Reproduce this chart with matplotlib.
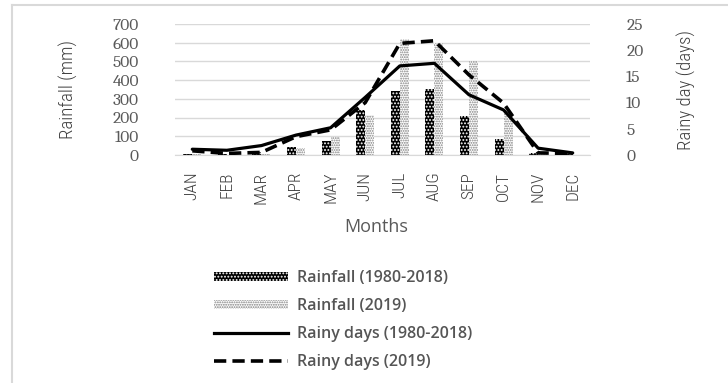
import matplotlib
matplotlib.use("Agg")
import matplotlib.pyplot as plt
import numpy as np
from matplotlib.patches import Patch
from matplotlib.lines import Line2D

# monthly climatology vs 2019
months = ['JAN', 'FEB', 'MAR', 'APR', 'MAY', 'JUN', 'JUL', 'AUG', 'SEP', 'OCT', 'NOV', 'DEC']
rain_avg = [5, 5, 18, 44, 75, 240, 340, 355, 210, 87, 10, 3]
rain_2019 = [4, 2, 5, 40, 95, 215, 620, 600, 500, 225, 5, 1]
days_avg = [1.1, 0.9, 1.8, 3.8, 5.2, 11, 17, 17.5, 11.5, 8.6, 1.3, 0.4]
days_2019 = [0.8, 0.3, 0.5, 3.5, 4.8, 10, 21.3, 21.8, 15.3, 9.9, 0.4, 0.3]

grey = '#595959'
cond = {'family': 'Roboto Condensed', 'weight': 300}
plt.rcParams['hatch.linewidth'] = 0.9

fig = plt.figure(figsize=(7.28, 3.83), dpi=100)
ax = fig.add_axes([175/728, 1-155/383, 415/728, 131/383])
ax2 = ax.twinx()

x = np.arange(len(months))
w = 0.26
avg_style = dict(facecolor='black', edgecolor='white', hatch='.....', linewidth=0)
y19_style = dict(facecolor='white', edgecolor='#7f7f7f', hatch='.......', linewidth=0)
ax.bar(x - w/2, rain_avg, w, zorder=2, **avg_style)
ax.bar(x + w/2, rain_2019, w, zorder=2, **y19_style)

dash = (0, (3.4, 1.7))
ax2.plot(x, days_avg, color='black', lw=2.3, solid_capstyle='round', zorder=3)
ax2.plot(x, days_2019, color='black', lw=2.6, ls=dash, zorder=3)

ax.set_xlim(-0.5, 11.5)
ax.set_ylim(0, 700)
ax2.set_ylim(0, 25)
ax.set_yticks(range(0, 701, 100))
ax2.set_yticks(range(0, 26, 5))
ax.yaxis.grid(True, color='#d9d9d9', lw=1)
ax.set_axisbelow(True)

for a in (ax, ax2):
    for s in a.spines.values():
        s.set_visible(False)
    a.tick_params(length=0)
ax.spines['bottom'].set_visible(True)
ax.spines['bottom'].set_color('#d9d9d9')

ax.set_xticks(x)
ax.set_xticklabels(months, rotation=90, fontsize=12.5, color='#404040',
                   family='Roboto Condensed', weight=300)
ax.tick_params(axis='x', pad=12)
ax.tick_params(axis='y', pad=26, labelsize=12.5, labelcolor=grey, labelfontfamily='Caladea')
ax2.tick_params(axis='y', pad=26, labelsize=12.5, labelcolor=grey, labelfontfamily='Caladea')

ax.set_ylabel('Rainfall (mm)', fontsize=13.5, color='#404040', labelpad=25, **cond)
ax2.set_ylabel('Rainy day (days)', fontsize=13.5, color='#404040', labelpad=24, **cond)
fig.text(376/728, 1-227/383, 'Months', ha='center', va='center',
         fontsize=13, color=grey, family='Open Sans')

handles = [
    Patch(**avg_style),
    Patch(**y19_style),
    Line2D([], [], color='black', lw=2.3),
    Line2D([], [], color='black', lw=2.6, ls=dash),
]
labels = ['Rainfall (1980-2018)', 'Rainfall (2019)',
          'Rainy days (1980-2018)', 'Rainy days (2019)']
leg = fig.legend(handles, labels, loc='upper left', bbox_to_anchor=(208/728, 1-264/383),
                 frameon=False, prop={'family': 'Open Sans', 'size': 11.5, 'weight': 600},
                 handlelength=4.6, handleheight=0.5, handletextpad=0.6,
                 labelspacing=0.74, borderaxespad=0)
for t in leg.get_texts():
    t.set_color('#555555')

# chart border
fig.add_artist(Line2D([12/728, 12/728], [0, 1-5/383], transform=fig.transFigure,
                      color='#d9d9d9', lw=1.5))
fig.add_artist(Line2D([12/728, 1], [1-5/383, 1-5/383], transform=fig.transFigure,
                      color='#d9d9d9', lw=1.5))

fig.savefig('out.png', dpi=100)
